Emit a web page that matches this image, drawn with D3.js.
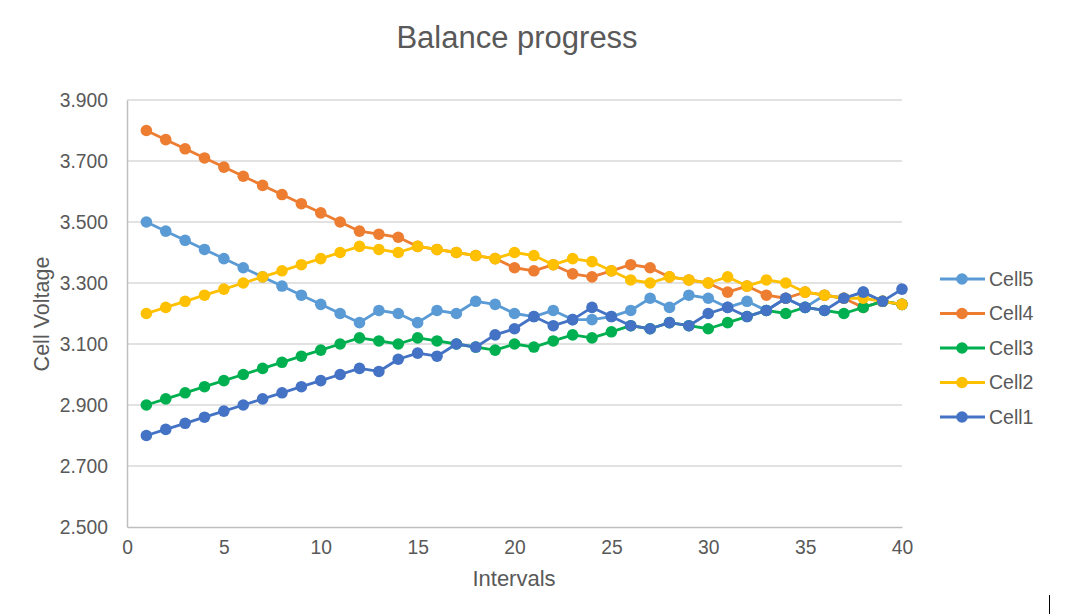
<!DOCTYPE html>
<html>
<head>
<meta charset="utf-8">
<script src="https://cdn.jsdelivr.net/npm/d3@7"></script>
<style>
  html, body { margin: 0; padding: 0; background: #fff; }
  svg { display: block; font-family: "Liberation Sans", Arial, sans-serif; }
</style>
</head>
<body>
<div id="chart"></div>
<script>
// 数据
const intervals = d3.range(1, 41);
const seriesNames = ["Cell5", "Cell4", "Cell3", "Cell2", "Cell1"];
const cell5 = [3.50, 3.47, 3.44, 3.41, 3.38, 3.35, 3.32, 3.29, 3.26, 3.23, 3.20, 3.17, 3.21, 3.20, 3.17, 3.21, 3.20, 3.24, 3.23, 3.20,
               3.19, 3.21, 3.18, 3.18, 3.19, 3.21, 3.25, 3.22, 3.26, 3.25, 3.22, 3.24, 3.21, 3.25, 3.22, 3.26, 3.25, 3.27, 3.24, 3.23];
const cell4 = [3.80, 3.77, 3.74, 3.71, 3.68, 3.65, 3.62, 3.59, 3.56, 3.53, 3.50, 3.47, 3.46, 3.45, 3.42, 3.41, 3.40, 3.39, 3.38, 3.35,
               3.34, 3.36, 3.33, 3.32, 3.34, 3.36, 3.35, 3.32, 3.31, 3.30, 3.27, 3.29, 3.26, 3.25, 3.27, 3.26, 3.25, 3.22, 3.24, 3.23];
const cell3 = [2.90, 2.92, 2.94, 2.96, 2.98, 3.00, 3.02, 3.04, 3.06, 3.08, 3.10, 3.12, 3.11, 3.10, 3.12, 3.11, 3.10, 3.09, 3.08, 3.10,
               3.09, 3.11, 3.13, 3.12, 3.14, 3.16, 3.15, 3.17, 3.16, 3.15, 3.17, 3.19, 3.21, 3.20, 3.22, 3.21, 3.20, 3.22, 3.24, 3.23];
const cell2 = [3.20, 3.22, 3.24, 3.26, 3.28, 3.30, 3.32, 3.34, 3.36, 3.38, 3.40, 3.42, 3.41, 3.40, 3.42, 3.41, 3.40, 3.39, 3.38, 3.40,
               3.39, 3.36, 3.38, 3.37, 3.34, 3.31, 3.30, 3.32, 3.31, 3.30, 3.32, 3.29, 3.31, 3.30, 3.27, 3.26, 3.25, 3.25, 3.24, 3.23];
const cell1 = [2.80, 2.82, 2.84, 2.86, 2.88, 2.90, 2.92, 2.94, 2.96, 2.98, 3.00, 3.02, 3.01, 3.05, 3.07, 3.06, 3.10, 3.09, 3.13, 3.15,
               3.19, 3.16, 3.18, 3.22, 3.19, 3.16, 3.15, 3.17, 3.16, 3.20, 3.22, 3.19, 3.21, 3.25, 3.22, 3.21, 3.25, 3.27, 3.24, 3.28];
const seriesColors = ["#5B9BD5", "#ED7D31", "#00B050", "#FFC000", "#4472C4"];
const xTicks = [0, 5, 10, 15, 20, 25, 30, 35, 40];
const yTicks = [2.5, 2.7, 2.9, 3.1, 3.3, 3.5, 3.7, 3.9];

const width = 1080, height = 614;
const margin = { top: 100, right: 178, bottom: 87, left: 127 };
const textColor = "#595959";

const svg = d3.select("#chart")
  .append("svg")
  .attr("width", width)
  .attr("height", height);

const x = d3.scaleLinear()
  .domain([0, 40])
  .range([margin.left, width - margin.right]);

const y = d3.scaleLinear()
  .domain([2.5, 3.9])
  .range([height - margin.bottom, margin.top]);

// 标题
svg.append("text")
  .attr("x", 517)
  .attr("y", 48)
  .attr("text-anchor", "middle")
  .style("font-size", "31px")
  .style("fill", textColor)
  .text("Balance progress");

// 网格线
svg.append("g")
  .selectAll("line")
  .data(yTicks.slice(1))
  .enter()
  .append("line")
  .attr("x1", x(0))
  .attr("x2", x(40))
  .attr("y1", d => y(d))
  .attr("y2", d => y(d))
  .attr("stroke", "#d9d9d9")
  .attr("stroke-width", 1.5);

// y 轴
const yAxis = svg.append("g")
  .attr("transform", `translate(${margin.left},0)`)
  .call(d3.axisLeft(y).tickValues(yTicks).tickFormat(d3.format(".3f")).tickSize(0).tickPadding(19));
yAxis.select(".domain").attr("stroke", "#bfbfbf").attr("stroke-width", 1.5);
yAxis.selectAll("text")
  .style("font-size", "19.3px")
  .style("fill", textColor)
  .attr("font-family", null);

// x 轴
const xAxis = svg.append("g")
  .attr("transform", `translate(0,${height - margin.bottom})`)
  .call(d3.axisBottom(x).tickValues(xTicks).tickSize(0).tickPadding(13));
xAxis.select(".domain").attr("stroke", "#bfbfbf").attr("stroke-width", 1.5);
xAxis.selectAll("text")
  .style("font-size", "19.3px")
  .style("fill", textColor)
  .attr("font-family", null);

// 轴标题
svg.append("text")
  .attr("x", 514)
  .attr("y", 586)
  .attr("text-anchor", "middle")
  .style("font-size", "22px")
  .style("fill", textColor)
  .text("Intervals");

svg.append("text")
  .attr("transform", "translate(49,314) rotate(-90)")
  .attr("text-anchor", "middle")
  .style("font-size", "21.5px")
  .style("fill", textColor)
  .text("Cell Voltage");

// 折线
const seriesValues = [cell5, cell4, cell3, cell2, cell1];
const series = seriesNames.map((name, i) => ({
  name: name,
  color: seriesColors[i],
  points: intervals.map((t, j) => ({ t: t, v: seriesValues[i][j] }))
}));

const line = d3.line()
  .x(d => x(d.t))
  .y(d => y(d.v));

const groups = svg.append("g")
  .selectAll("g")
  .data(series)
  .enter()
  .append("g");

groups.append("path")
  .attr("d", d => line(d.points))
  .attr("fill", "none")
  .attr("stroke", d => d.color)
  .attr("stroke-width", 2.8)
  .attr("stroke-linejoin", "round");

groups.each(function (s) {
  d3.select(this).selectAll("circle")
    .data(s.points)
    .enter()
    .append("circle")
    .attr("cx", d => x(d.t))
    .attr("cy", d => y(d.v))
    .attr("r", 5.8)
    .attr("fill", s.color);
});

// 图例
const legend = svg.append("g")
  .selectAll("g")
  .data(series)
  .enter()
  .append("g")
  .attr("transform", (d, i) => `translate(940, ${279 + i * 34.5})`);

legend.append("line")
  .attr("x1", 0)
  .attr("x2", 45)
  .attr("stroke", d => d.color)
  .attr("stroke-width", 2.8);

legend.append("circle")
  .attr("cx", 22)
  .attr("r", 5.8)
  .attr("fill", d => d.color);

legend.append("text")
  .attr("x", 49)
  .attr("dy", "0.35em")
  .style("font-size", "19.5px")
  .style("fill", textColor)
  .text(d => d.name);

// 右下角光标
svg.append("line")
  .attr("x1", 1049.5)
  .attr("x2", 1049.5)
  .attr("y1", 595)
  .attr("y2", 614)
  .attr("stroke", "#000")
  .attr("stroke-width", 1);
</script>
</body>
</html>
